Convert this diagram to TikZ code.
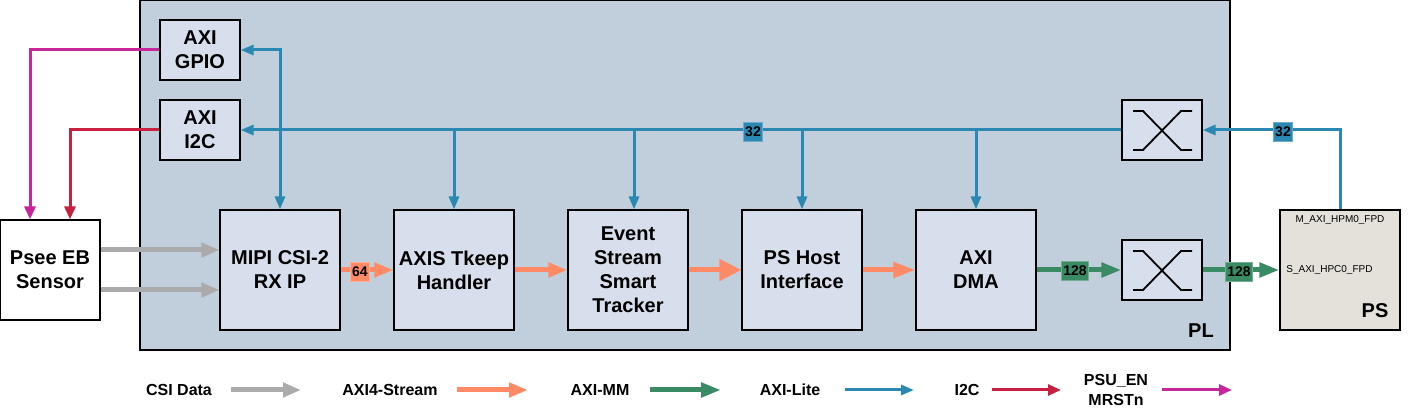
\documentclass[tikz,border=0pt]{standalone}
\usepackage{fontspec}
\setmainfont{Liberation Sans}
\usepackage{tikz}
\usetikzlibrary{arrows.meta}
\usetikzlibrary{calc}
\usetikzlibrary{positioning}

\definecolor{litec}{HTML}{2A88B3}
\definecolor{strmc}{HTML}{FF8A65}
\definecolor{mmc}{HTML}{3A8B64}
\definecolor{csic}{HTML}{ABABAB}
\definecolor{iicc}{HTML}{C8203E}
\definecolor{rstc}{HTML}{C7259A}
\definecolor{blkc}{HTML}{D6DFEB}
\definecolor{plc}{HTML}{C1CFDC}
\definecolor{psc}{HTML}{E4E1DA}

\begin{document}
\begin{tikzpicture}[x=0.5pt, y=-0.5pt,
  every node/.style={font=\bfseries\fontsize{10}{12}\selectfont, align=center, inner sep=0pt},
  blk/.style={draw, fill=blkc, line width=0.6pt},
  wid/.style={draw, line width=0.5pt, minimum size=9.5pt, inner sep=0.8pt, font=\bfseries\fontsize{7}{8}\selectfont},
  leg/.style={font=\bfseries\fontsize{8}{10}\selectfont},
  lite/.style={draw=litec, line width=1.5pt, -{Triangle[length=6.5pt,width=5pt]}},
  strm/.style={draw=strmc, line width=2.5pt, -{Triangle[length=9.5pt,width=7pt]}},
  mm/.style={draw=mmc, line width=2.5pt, -{Triangle[length=10pt,width=7pt]}},
  csi/.style={draw=csic, line width=2.5pt, -{Triangle[length=9pt,width=7pt]}},
  iic/.style={draw=iicc, line width=1.5pt, -{Triangle[length=6.5pt,width=5.5pt]}},
  rst/.style={draw=rstc, line width=1.5pt, -{Triangle[length=6.5pt,width=5.5pt]}}]
\useasboundingbox (0,0) rectangle (1410,411);

% PL region
\node[draw, fill=plc, line width=0.6pt, minimum width=545pt, minimum height=175pt] (PL) at (685,175) {};
\node (PLtxt) at (1201,331) {PL};

% blocks
\node[blk, minimum width=40pt, minimum height=30pt] (GPIO) at (200,50) {AXI\\GPIO};
\node[blk, minimum width=40pt, minimum height=30pt] (I2C) at (200,130) {AXI\\I2C};
\node[draw, fill=white, line width=0.6pt, minimum width=50pt, minimum height=50pt] (SNS) at (50,270) {Psee EB\\Sensor};
\node[blk, minimum width=60pt, minimum height=60pt] (MIPI) at (280,270) {MIPI CSI-2\\RX IP};
\node[blk, minimum width=60pt, minimum height=60pt] (TKP) at (454,270) {AXIS Tkeep\\Handler};
\node[blk, minimum width=60pt, minimum height=60pt] (EST) at (628,270) {Event\\Stream\\Smart\\Tracker};
\node[blk, minimum width=60pt, minimum height=60pt] (PSH) at (802,270) {PS Host\\Interface};
\node[blk, minimum width=60pt, minimum height=60pt] (DMA) at (976,270) {AXI\\DMA};
\node[blk, minimum width=40pt, minimum height=30pt] (IC1) at (1162,130) {};
\node[blk, minimum width=40pt, minimum height=30pt] (IC2) at (1162,270) {};
\node[draw, fill=psc, line width=0.6pt, minimum width=60pt, minimum height=60pt] (PS) at (1340,270) {};
\node (PStxt) at (1375,311) {PS};
\node[font=\fontsize{5}{6}\selectfont] (HPM) at (1340,220) {M\_AXI\_HPM0\_FPD};
\node[font=\fontsize{5}{6}\selectfont, anchor=west] (HPC) at (1286,270) {S\_AXI\_HPC0\_FPD};

% crossbars
\foreach \n in {IC1,IC2}{
  \draw[line width=0.9pt] ($(\n)+(-29,-19)$) -- ($(\n)+(-19,-19)$) -- ($(\n)+(19,20)$) -- ($(\n)+(30,20)$);
  \draw[line width=0.9pt] ($(\n)+(-29,20)$) -- ($(\n)+(-19,20)$) -- ($(\n)+(19,-19)$) -- ($(\n)+(30,-19)$);
}

% AXI-Lite
\draw[lite] (PS.north) |- (IC1.east);
\draw[lite] (IC1.west) -- (I2C.east);
\draw[lite, {Triangle[length=6.5pt,width=5pt]}-{Triangle[length=6.5pt,width=5pt]}] (GPIO.east) -| (MIPI.north);
\draw[lite] (TKP.north |- IC1.west) -- (TKP.north);
\draw[lite] ($(EST.north |- IC1.west)+(6,0)$) -- ($(EST.north)+(6,0)$);
\draw[lite] (PSH.north |- IC1.west) -- (PSH.north);
\draw[lite] (DMA.north |- IC1.west) -- (DMA.north);

% sensor side
\draw[rst] (GPIO.west) -| ($(SNS.north)+(-20,0)$);
\draw[iic] (I2C.west) -| ($(SNS.north)+(20,0)$);
\draw[csi] ($(SNS.east)+(0,-20)$) -- ($(MIPI.west)+(0,-20)$);
\draw[csi] ($(SNS.east)+(0,20)$) -- ($(MIPI.west)+(0,20)$);

% stream
\draw[strm] (MIPI.east) -- (TKP.west);
\draw[strm] (TKP.east) -- (EST.west);
\draw[strm, -{Triangle[length=11pt,width=10.5pt]}] (EST.east) -- (PSH.west);
\draw[strm, -{Triangle[length=11pt,width=7.5pt]}] (PSH.east) -- (DMA.west);

% AXI-MM
\draw[mm] (DMA.east) -- (IC2.west);
\draw[mm] (IC2.east) -- (PS.west);

% widths
\node[wid, draw=litec!70!white, fill=litec] (W1) at (753,132) {32};
\node[wid, draw=litec!70!white, fill=litec] (W2) at (1283,132) {32};
\node[wid, draw=strmc!70!white, fill=strmc] (W3) at (360,272) {64};
\node[wid, draw=mmc!70!white, fill=mmc] (W4) at (1075,271) {128};
\node[wid, draw=mmc!70!white, fill=mmc] (W5) at (1239,272) {128};

% legend
\node[leg] (L1) at (179,390) {CSI Data};
\node[leg] (L2) at (390,390) {AXI4-Stream};
\node[leg] (L3) at (600,390) {AXI-MM};
\node[leg] (L4) at (790,390) {AXI-Lite};
\node[leg] (L5) at (967,390) {I2C};
\node[leg, font=\bfseries\fontsize{8}{10}\selectfont] (L6) at (1116,390) {PSU\_EN\\MRSTn};
\coordinate (A1) at (231,390); \coordinate (B1) at (301,390);
\coordinate (A2) at (457,390); \coordinate (B2) at (528,390);
\coordinate (A3) at (650,390); \coordinate (B3) at (721,390);
\coordinate (A4) at (845,390); \coordinate (B4) at (914,390);
\coordinate (A5) at (992,390); \coordinate (B5) at (1061,390);
\coordinate (A6) at (1162,390); \coordinate (B6) at (1232,390);
\draw[csi] (A1) -- (B1);
\draw[strm] (A2) -- (B2);
\draw[mm] (A3) -- (B3);
\draw[lite] (A4) -- (B4);
\draw[iic] (A5) -- (B5);
\draw[rst] (A6) -- (B6);
\end{tikzpicture}
\end{document}
